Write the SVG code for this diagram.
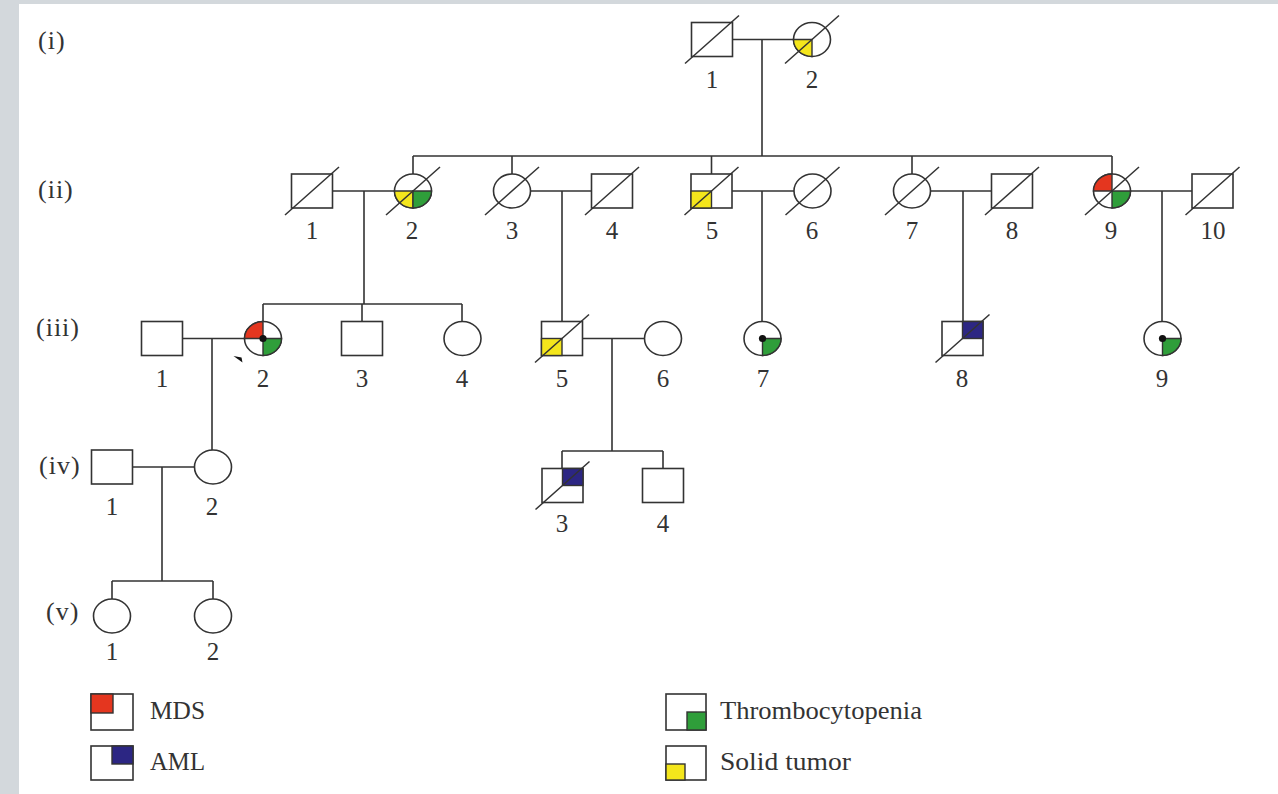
<svg xmlns="http://www.w3.org/2000/svg" xmlns:xlink="http://www.w3.org/1999/xlink" width="1278" height="794" viewBox="0 0 1278 794">
  <style>
    .ln { stroke: #333; stroke-width: 1.6; fill: none; }
    .sh { fill: #fff; stroke: #333; stroke-width: 1.6; }
    .sl { stroke: #333; stroke-width: 1.5; fill: none; }
    .q  { stroke: #333; stroke-width: 1.4; }
    .red { fill: #e4361f; }
    .grn { fill: #2f9e3a; }
    .yel { fill: #f4e61c; }
    .blu { fill: #2c2683; }
    .dot { fill: #111; }
    .t  { font-family: "Liberation Serif", "Times New Roman", serif; font-size: 25px; fill: #333; }
    .g  { font-size: 26px; letter-spacing: 1px; }
    .c  { text-anchor: middle; }
  </style>
  <defs>
    <!-- individual shapes, drawn around (0,0) -->
    <rect id="sq" x="-20.5" y="-17" width="41" height="34"/>
    <ellipse id="ci" rx="18.5" ry="17"/>
    <!-- square quadrants -->
    <rect id="sqTL" x="-20.5" y="-17" width="20.5" height="17"/>
    <rect id="sqTR" x="0" y="-17" width="20.5" height="17"/>
    <rect id="sqBL" x="-20.5" y="0" width="20.5" height="17"/>
    <!-- circle quadrants -->
    <path id="ciTL" d="M0,0 H-18.5 A18.5,17 0 0,1 0,-17 Z"/>
    <path id="ciBL" d="M0,0 H-18.5 A18.5,17 0 0,0 0,17 Z"/>
    <path id="ciBR" d="M0,0 V17 A18.5,17 0 0,0 18.5,0 Z"/>
    <!-- deceased slash -->
    <line id="dec" x1="-27" y1="24" x2="27" y2="-24"/>
  </defs>

  <!-- page frame -->
  <rect x="0" y="0" width="1278" height="794" fill="#d3d8dc"/>
  <rect x="19" y="4" width="1259" height="790" fill="#fff"/>

  <!-- generation labels -->
  <g id="generations" class="t g">
    <text x="38" y="49">(i)</text>
    <text x="38" y="198">(ii)</text>
    <text x="36" y="336">(iii)</text>
    <text x="39" y="474">(iv)</text>
    <text x="46" y="620">(v)</text>
  </g>

  <!-- connectors -->
  <g id="connectors" class="ln">
    <!-- generation I -->
    <path d="M732.5,39.5 H793.5 M762,39.5 V156"/>
    <path d="M413,156 H1112 M413,156 V174 M512,156 V174 M711.5,156 V174 M912,156 V174 M1112,156 V174"/>
    <!-- generation II couples -->
    <path d="M332.5,191 H394.5 M364,191 V304"/>
    <path d="M530.5,191 H591.5 M562,191 V321.5"/>
    <path d="M730,191 H794 M762,191 V321.5"/>
    <path d="M930.5,191 H991.5 M963,191 V321.5"/>
    <path d="M1130.5,191 H1192 M1162,191 V321.5"/>
    <!-- generation III sibship -->
    <path d="M263,304 H462 M263,304 V321.5 M362,304 V321.5 M462,304 V321.5"/>
    <!-- generation III couples -->
    <path d="M182.5,338.5 H244.5 M212,338.5 V450"/>
    <path d="M582.5,338.5 H644.5 M612,338.5 V451"/>
    <!-- generation IV -->
    <path d="M562,451 H663 M562,451 V468.5 M663,451 V468.5"/>
    <path d="M132.5,467 H194.5 M162,467 V581"/>
    <path d="M112,581 H213 M112,581 V599 M213,581 V599"/>
  </g>

  <!-- generation I -->
  <g id="I-1" transform="translate(712,39.5)">
    <use href="#sq" class="sh"/>
    <use href="#dec" class="sl"/>
  </g>
  <g id="I-2" transform="translate(812,39.5)">
    <use href="#ci" class="sh"/>
    <use href="#ciBL" class="q yel"/>
    <use href="#dec" class="sl"/>
  </g>

  <!-- generation II -->
  <g id="II-1" transform="translate(312,191)">
    <use href="#sq" class="sh"/>
    <use href="#dec" class="sl"/>
  </g>
  <g id="II-2" transform="translate(413,191)">
    <use href="#ci" class="sh"/>
    <use href="#ciBL" class="q yel"/>
    <use href="#ciBR" class="q grn"/>
    <use href="#dec" class="sl"/>
  </g>
  <g id="II-3" transform="translate(512,191)">
    <use href="#ci" class="sh"/>
    <use href="#dec" class="sl"/>
  </g>
  <g id="II-4" transform="translate(612,191)">
    <use href="#sq" class="sh"/>
    <use href="#dec" class="sl"/>
  </g>
  <g id="II-5" transform="translate(711.5,191)">
    <use href="#sq" class="sh"/>
    <use href="#sqBL" class="q yel"/>
    <use href="#dec" class="sl"/>
  </g>
  <g id="II-6" transform="translate(812.5,191)">
    <use href="#ci" class="sh"/>
    <use href="#dec" class="sl"/>
  </g>
  <g id="II-7" transform="translate(912,191)">
    <use href="#ci" class="sh"/>
    <use href="#dec" class="sl"/>
  </g>
  <g id="II-8" transform="translate(1012,191)">
    <use href="#sq" class="sh"/>
    <use href="#dec" class="sl"/>
  </g>
  <g id="II-9" transform="translate(1112,191)">
    <use href="#ci" class="sh"/>
    <use href="#ciTL" class="q red"/>
    <use href="#ciBR" class="q grn"/>
    <use href="#dec" class="sl"/>
  </g>
  <g id="II-10" transform="translate(1212.5,191)">
    <use href="#sq" class="sh"/>
    <use href="#dec" class="sl"/>
  </g>

  <!-- generation III -->
  <g id="III-1" transform="translate(162,338.5)">
    <use href="#sq" class="sh"/>
  </g>
  <g id="III-2" transform="translate(263,338.5)">
    <use href="#ci" class="sh"/>
    <use href="#ciTL" class="q red"/>
    <use href="#ciBR" class="q grn"/>
    <circle r="3.6" class="dot"/>
    <!-- proband pointer -->
    <polygon points="-29.5,17.5 -21.5,19 -20.5,24" fill="#111"/>
  </g>
  <g id="III-3" transform="translate(362,338.5)">
    <use href="#sq" class="sh"/>
  </g>
  <g id="III-4" transform="translate(462.5,338.5)">
    <use href="#ci" class="sh"/>
  </g>
  <g id="III-5" transform="translate(562,338.5)">
    <use href="#sq" class="sh"/>
    <use href="#sqBL" class="q yel"/>
    <use href="#dec" class="sl"/>
  </g>
  <g id="III-6" transform="translate(663,338.5)">
    <use href="#ci" class="sh"/>
  </g>
  <g id="III-7" transform="translate(762.5,338.5)">
    <use href="#ci" class="sh"/>
    <use href="#ciBR" class="q grn"/>
    <circle r="3.6" class="dot"/>
  </g>
  <g id="III-8" transform="translate(962.5,338.5)">
    <use href="#sq" class="sh"/>
    <use href="#sqTR" class="q blu"/>
    <use href="#dec" class="sl"/>
  </g>
  <g id="III-9" transform="translate(1162.5,338.5)">
    <use href="#ci" class="sh"/>
    <use href="#ciBR" class="q grn"/>
    <circle r="3.6" class="dot"/>
  </g>

  <!-- generation IV -->
  <g id="IV-1" transform="translate(112,467)">
    <use href="#sq" class="sh"/>
  </g>
  <g id="IV-2" transform="translate(213,467)">
    <use href="#ci" class="sh"/>
  </g>
  <g id="IV-3" transform="translate(562.5,485.5)">
    <use href="#sq" class="sh"/>
    <use href="#sqTR" class="q blu"/>
    <use href="#dec" class="sl"/>
  </g>
  <g id="IV-4" transform="translate(663,485.5)">
    <use href="#sq" class="sh"/>
  </g>

  <!-- generation V -->
  <g id="V-1" transform="translate(112,616)">
    <use href="#ci" class="sh"/>
  </g>
  <g id="V-2" transform="translate(213,616)">
    <use href="#ci" class="sh"/>
  </g>

  <!-- individual numbers -->
  <g id="numbers" class="t c">
    <text x="712" y="88">1</text>
    <text x="812" y="88">2</text>

    <text x="312" y="239">1</text>
    <text x="412" y="239">2</text>
    <text x="512" y="239">3</text>
    <text x="612" y="239">4</text>
    <text x="712" y="239">5</text>
    <text x="812" y="239">6</text>
    <text x="912" y="239">7</text>
    <text x="1012" y="239">8</text>
    <text x="1111" y="239">9</text>
    <text x="1213" y="239">10</text>

    <text x="162" y="387">1</text>
    <text x="263" y="387">2</text>
    <text x="362" y="387">3</text>
    <text x="462" y="387">4</text>
    <text x="562" y="387">5</text>
    <text x="663" y="387">6</text>
    <text x="763" y="387">7</text>
    <text x="962" y="387">8</text>
    <text x="1162" y="387">9</text>

    <text x="112" y="515">1</text>
    <text x="212" y="515">2</text>
    <text x="562" y="532">3</text>
    <text x="663" y="532">4</text>

    <text x="112" y="660">1</text>
    <text x="213" y="660">2</text>
  </g>

  <!-- legend -->
  <g id="legend-mds">
    <rect x="91" y="694" width="42" height="36" class="sh"/>
    <rect x="91" y="694" width="22" height="19" class="q red"/>
    <text x="150" y="719" class="t" textLength="55" lengthAdjust="spacingAndGlyphs">MDS</text>
  </g>
  <g id="legend-aml">
    <rect x="91" y="746" width="42" height="34" class="sh"/>
    <rect x="112" y="746" width="21" height="18" class="q blu"/>
    <text x="150" y="770" class="t" textLength="55" lengthAdjust="spacingAndGlyphs">AML</text>
  </g>
  <g id="legend-thrombocytopenia">
    <rect x="666" y="694" width="40" height="36" class="sh"/>
    <rect x="687" y="712" width="19" height="18" class="q grn"/>
    <text x="720" y="719" class="t" textLength="202" lengthAdjust="spacingAndGlyphs">Thrombocytopenia</text>
  </g>
  <g id="legend-solid-tumor">
    <rect x="666" y="746" width="40" height="34" class="sh"/>
    <rect x="666" y="764" width="19" height="16" class="q yel"/>
    <text x="720" y="770" class="t" textLength="131" lengthAdjust="spacingAndGlyphs">Solid tumor</text>
  </g>
</svg>
